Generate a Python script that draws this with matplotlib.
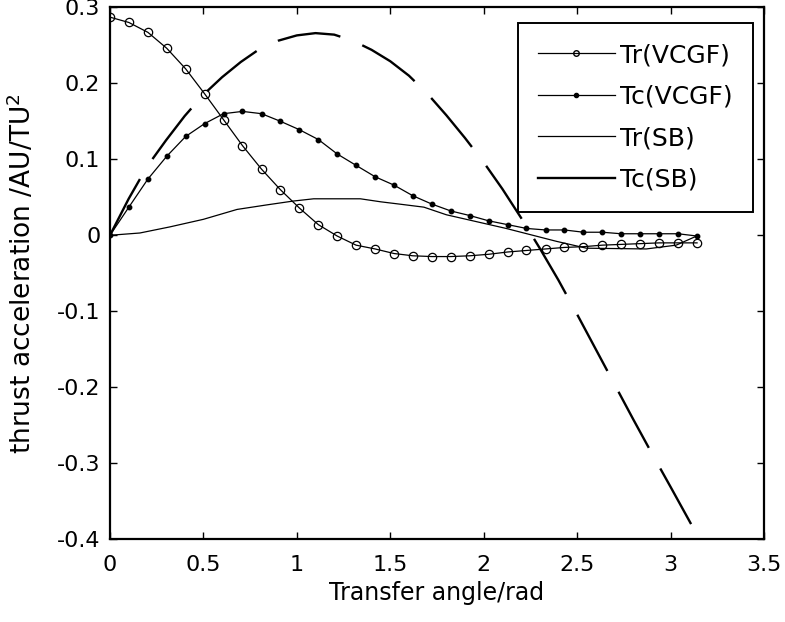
import matplotlib
matplotlib.use("Agg")
import matplotlib.pyplot as plt
from matplotlib.lines import Line2D

# ---------------- data ----------------
theta_vcgf = [0.000, 0.101, 0.203, 0.304, 0.405, 0.507, 0.608, 0.709, 0.811, 0.912,
              1.013, 1.115, 1.216, 1.317, 1.419, 1.520, 1.621, 1.723, 1.824, 1.925,
              2.027, 2.128, 2.229, 2.331, 2.432, 2.534, 2.635, 2.736, 2.838, 2.939,
              3.040, 3.142]
tr_vcgf = [0.287, 0.280, 0.267, 0.246, 0.219, 0.186, 0.152, 0.118, 0.087, 0.060,
           0.036, 0.014, -0.001, -0.013, -0.018, -0.024, -0.027, -0.028, -0.028, -0.027,
           -0.025, -0.022, -0.020, -0.018, -0.016, -0.015, -0.013, -0.012, -0.011, -0.010,
           -0.010, -0.010]
tc_vcgf = [0.000, 0.037, 0.074, 0.104, 0.130, 0.147, 0.160, 0.163, 0.160, 0.150,
           0.139, 0.126, 0.107, 0.092, 0.077, 0.066, 0.052, 0.041, 0.032, 0.026,
           0.019, 0.014, 0.009, 0.007, 0.007, 0.004, 0.004, 0.002, 0.002, 0.002,
           0.002, -0.001]

theta_tr_sb = [0.00, 0.16, 0.32, 0.50, 0.68, 0.84, 0.98, 1.09, 1.34, 1.45,
               1.55, 1.68, 1.80, 2.12, 2.39, 2.55, 2.87, 3.03, 3.14]
tr_sb = [0.000, 0.003, 0.011, 0.021, 0.034, 0.040, 0.045, 0.048, 0.048, 0.044,
         0.041, 0.037, 0.027, 0.009, -0.008, -0.017, -0.018, -0.013, -0.001]

theta_tc_sb = [0.0, 0.1, 0.2, 0.3, 0.4, 0.5, 0.6, 0.7, 0.8, 0.9,
               1.0, 1.1, 1.2, 1.3, 1.4, 1.5, 1.6, 1.7, 1.8, 1.9,
               2.0, 2.1, 2.2, 2.3, 2.4, 2.5, 2.6, 2.7, 2.8, 2.9,
               3.0, 3.11]
tc_sb = [0.000, 0.048, 0.091, 0.125, 0.157, 0.185, 0.208, 0.228, 0.245, 0.256,
         0.263, 0.266, 0.264, 0.256, 0.244, 0.229, 0.210, 0.186, 0.158, 0.128,
         0.096, 0.061, 0.023, -0.017, -0.059, -0.104, -0.150, -0.196, -0.242, -0.287,
         -0.331, -0.380]

series_labels = ["Tr(VCGF)", "Tc(VCGF)", "Tr(SB)", "Tc(SB)"]
x_ticks = [0, 0.5, 1, 1.5, 2, 2.5, 3, 3.5]
x_tick_labels = ["0", "0.5", "1", "1.5", "2", "2.5", "3", "3.5"]
y_ticks = [-0.4, -0.3, -0.2, -0.1, 0, 0.1, 0.2, 0.3]
y_tick_labels = ["-0.4", "-0.3", "-0.2", "-0.1", "0", "0.1", "0.2", "0.3"]

# ---------------- figure ----------------
plt.rcParams['font.family'] = ['DejaVu Sans']
fig = plt.figure(figsize=(7.85, 6.22), dpi=100)
ax = fig.add_axes([0.1401, 0.1330, 0.8331, 0.8553])

ax.plot(theta_tc_sb, tc_sb, color='black', lw=1.7, dashes=(27, 10),
        solid_capstyle='butt', dash_capstyle='butt')
ax.plot(theta_tr_sb, tr_sb, color='black', lw=0.9)
ax.plot(theta_vcgf, tc_vcgf, color='black', lw=0.9, marker='o', ms=3.2,
        mfc='black', mec='black')
ax.plot(theta_vcgf, tr_vcgf, color='black', lw=0.9, marker='o', ms=6,
        mfc='none', mec='black', mew=0.9)

ax.set_xlim(0, 3.5)
ax.set_ylim(-0.4, 0.3)
ax.set_xticks(x_ticks)
ax.set_xticklabels(x_tick_labels)
ax.set_yticks(y_ticks)
ax.set_yticklabels(y_tick_labels)
ax.tick_params(direction='in', top=True, right=True, length=5, width=1,
               labelsize=16)
ax.tick_params(axis='x', pad=11)
ax.tick_params(axis='y', pad=7)
for sp in ax.spines.values():
    sp.set_linewidth(1.6)

ax.set_xlabel("Transfer angle/rad", fontsize=17, labelpad=5)
ax.set_ylabel("thrust acceleration /AU/TU$^2$", fontsize=19, labelpad=14)

handles = [
    Line2D([], [], color='black', lw=0.9, marker='o', ms=4, mfc='none', mec='black'),
    Line2D([], [], color='black', lw=0.9, marker='o', ms=3, mfc='black', mec='black'),
    Line2D([], [], color='black', lw=0.9),
    Line2D([], [], color='black', lw=1.7),
]
leg = ax.legend(handles, series_labels, loc='upper right',
                bbox_to_anchor=(0.983, 0.970), borderaxespad=0,
                fontsize=18, handlelength=3.1, handletextpad=0.2,
                borderpad=0.8, labelspacing=0.7, fancybox=False,
                framealpha=1, edgecolor='black')
leg.get_frame().set_linewidth(1.4)

fig.savefig("out.png", dpi=100)
